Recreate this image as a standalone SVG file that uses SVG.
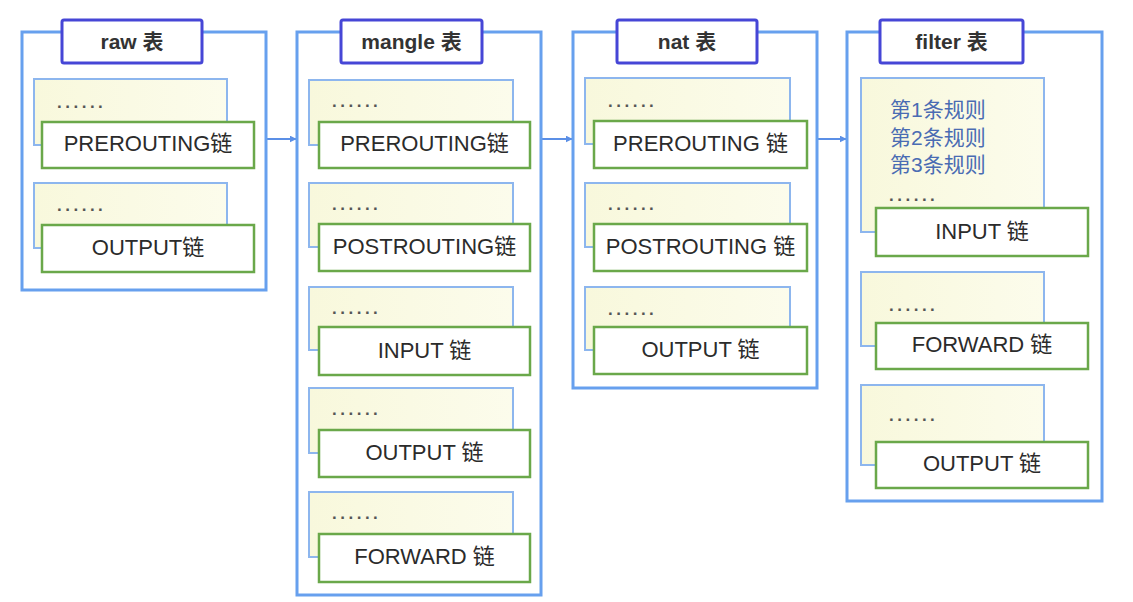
<svg xmlns="http://www.w3.org/2000/svg" width="1133" height="602" viewBox="0 0 1133 602">
<defs>
<style>
.outer{fill:#ffffff;stroke:#67a0ee;stroke-width:3}
.title{fill:#ffffff;stroke:#4646d6;stroke-width:3}
.ttext{font-family:"Liberation Sans","Noto Sans CJK SC",sans-serif;font-size:21px;font-weight:bold;fill:#333333;text-anchor:middle}
.rule{fill:url(#ry);stroke:#8db6ee;stroke-width:2}
.chain{fill:#ffffff;stroke:#6aa84a;stroke-width:2.5}
.ctext{font-family:"Liberation Sans","Noto Sans CJK SC",sans-serif;font-size:22px;fill:#2b2b2b;text-anchor:middle}
.dots{font-family:"Liberation Sans",sans-serif;font-size:17px;font-weight:bold;fill:#555555;letter-spacing:3.5px}
.rtext{font-family:"Liberation Sans","Noto Sans CJK SC",sans-serif;font-size:21px;fill:#4a6cb3}
.conn{stroke:#5b8fe6;stroke-width:2;fill:none}
</style>
<linearGradient id="ry" x1="0" y1="0" x2="1" y2="0">
<stop offset="0" stop-color="#f8f8dc"/>
<stop offset="1" stop-color="#fcfcec"/>
</linearGradient>
<marker id="ah" viewBox="0 0 10 10" refX="9" refY="5" markerWidth="7" markerHeight="7" orient="auto" markerUnits="userSpaceOnUse">
<path d="M0,0 L10,5 L0,10 z" fill="#5b8fe6"/>
</marker>
</defs>
<rect width="1133" height="602" fill="#ffffff"/>

<g id="connectors">
<line class="conn" x1="266" y1="139" x2="296" y2="139" marker-end="url(#ah)"/>
<line class="conn" x1="541" y1="139" x2="572" y2="139" marker-end="url(#ah)"/>
<line class="conn" x1="817" y1="139" x2="846" y2="139" marker-end="url(#ah)"/>
</g>

<g id="raw">
<rect class="outer" x="22" y="32" width="244" height="258"/>
<rect class="title" x="62" y="20" width="140" height="43" rx="2"/>
<text class="ttext" x="132" y="49">raw 表</text>
<g id="raw-prerouting">
<rect class="rule" x="34" y="79" width="193" height="66"/>
<text class="dots" x="57" y="108">......</text>
<rect class="chain" x="42" y="122" width="212" height="46"/>
<text class="ctext" x="148" y="151">PREROUTING链</text>
</g>
<g id="raw-output">
<rect class="rule" x="34" y="183" width="193" height="65"/>
<text class="dots" x="57" y="211">......</text>
<rect class="chain" x="42" y="225" width="212" height="47"/>
<text class="ctext" x="148" y="255">OUTPUT链</text>
</g>
</g>

<g id="mangle">
<rect class="outer" x="297" y="32" width="244" height="563"/>
<rect class="title" x="341" y="20" width="141" height="43" rx="2"/>
<text class="ttext" x="411.5" y="49">mangle 表</text>
<g id="mangle-prerouting">
<rect class="rule" x="309" y="80" width="204" height="65"/>
<text class="dots" x="332" y="107">......</text>
<rect class="chain" x="319" y="122" width="211" height="46"/>
<text class="ctext" x="424.5" y="151">PREROUTING链</text>
</g>
<g id="mangle-postrouting">
<rect class="rule" x="309" y="183" width="204" height="64"/>
<text class="dots" x="332" y="210">......</text>
<rect class="chain" x="319" y="224" width="211" height="47"/>
<text class="ctext" x="424.5" y="254">POSTROUTING链</text>
</g>
<g id="mangle-input">
<rect class="rule" x="309" y="287" width="204" height="63"/>
<text class="dots" x="332" y="314">......</text>
<rect class="chain" x="319" y="327" width="211" height="48"/>
<text class="ctext" x="424.5" y="358">INPUT 链</text>
</g>
<g id="mangle-output">
<rect class="rule" x="309" y="388" width="204" height="65"/>
<text class="dots" x="332" y="415">......</text>
<rect class="chain" x="319" y="430" width="211" height="47"/>
<text class="ctext" x="424.5" y="460">OUTPUT 链</text>
</g>
<g id="mangle-forward">
<rect class="rule" x="309" y="492" width="204" height="65"/>
<text class="dots" x="332" y="519">......</text>
<rect class="chain" x="319" y="534" width="211" height="48"/>
<text class="ctext" x="424.5" y="564">FORWARD 链</text>
</g>
</g>

<g id="nat">
<rect class="outer" x="573" y="32" width="244" height="356"/>
<rect class="title" x="617" y="20" width="140" height="43" rx="2"/>
<text class="ttext" x="687" y="49">nat 表</text>
<g id="nat-prerouting">
<rect class="rule" x="585" y="78" width="205" height="66"/>
<text class="dots" x="608" y="107">......</text>
<rect class="chain" x="594" y="121" width="213" height="47"/>
<text class="ctext" x="700.5" y="151">PREROUTING 链</text>
</g>
<g id="nat-postrouting">
<rect class="rule" x="585" y="183" width="205" height="64"/>
<text class="dots" x="608" y="210">......</text>
<rect class="chain" x="594" y="224" width="213" height="47"/>
<text class="ctext" x="700.5" y="254">POSTROUTING 链</text>
</g>
<g id="nat-output">
<rect class="rule" x="585" y="287" width="205" height="63"/>
<text class="dots" x="608" y="315">......</text>
<rect class="chain" x="594" y="327" width="213" height="47"/>
<text class="ctext" x="700.5" y="357">OUTPUT 链</text>
</g>
</g>

<g id="filter">
<rect class="outer" x="847" y="32" width="255" height="469"/>
<rect class="title" x="880" y="20" width="143" height="43" rx="2"/>
<text class="ttext" x="951.5" y="49">filter 表</text>
<g id="filter-input">
<rect class="rule" x="861" y="78" width="183" height="154"/>
<text class="rtext" x="890" y="117">第1条规则</text>
<text class="rtext" x="890" y="145">第2条规则</text>
<text class="rtext" x="890" y="172">第3条规则</text>
<text class="dots" x="889" y="201">......</text>
<rect class="chain" x="876" y="208" width="212" height="48"/>
<text class="ctext" x="982" y="239">INPUT 链</text>
</g>
<g id="filter-forward">
<rect class="rule" x="861" y="272" width="183" height="74"/>
<text class="dots" x="889" y="311">......</text>
<rect class="chain" x="876" y="323" width="212" height="46"/>
<text class="ctext" x="982" y="352">FORWARD 链</text>
</g>
<g id="filter-output">
<rect class="rule" x="861" y="385" width="183" height="80"/>
<text class="dots" x="889" y="421">......</text>
<rect class="chain" x="876" y="442" width="212" height="46"/>
<text class="ctext" x="982" y="471">OUTPUT 链</text>
</g>
</g>
</svg>
